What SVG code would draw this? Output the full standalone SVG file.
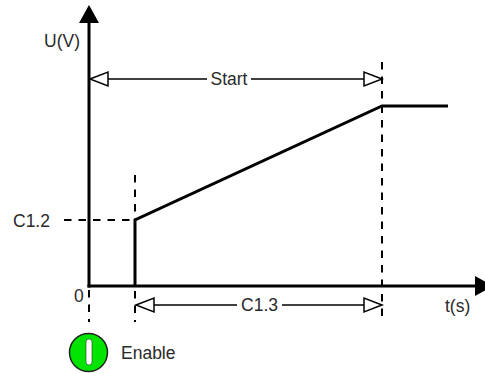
<svg xmlns="http://www.w3.org/2000/svg" width="485" height="374" viewBox="0 0 485 374">
<style>
.lbl{font-family:"Liberation Sans",Arial,sans-serif;font-size:17.5px;fill:#2a2a2a}
.axis{stroke:#000;stroke-width:3;fill:none}
.curve{stroke:#000;stroke-width:3;fill:none;stroke-linejoin:miter}
.dash{stroke:#000;stroke-width:2;stroke-dasharray:7.5 7;fill:none}
.dim{stroke:#000;stroke-width:1.5;fill:none}
.oh{stroke:#000;stroke-width:1.5;fill:#fff}
</style>
<rect width="485" height="374" fill="#fff"/>
<g id="connectors">
  <line class="dash" x1="382" y1="62" x2="382" y2="322"/>
  <line class="dash" x1="135" y1="175" x2="135" y2="322"/>
  <line class="dash" x1="64" y1="220" x2="135" y2="220"/>
  <line class="dash" x1="89" y1="290" x2="89" y2="322"/>
  <g id="y-axis">
    <line class="axis" x1="89" y1="287.5" x2="89" y2="22"/>
    <polygon points="89,5 99,23 79,23" fill="#000"/>
  </g>
  <g id="x-axis">
    <line class="axis" x1="87.5" y1="286" x2="476" y2="286"/>
    <polygon points="493,286 475,276 475,296" fill="#000"/>
  </g>
  <polyline class="curve" points="135,286 135,220 382,106 448,106"/>
  <g id="start-dim">
    <line class="dim" x1="108" y1="79" x2="207" y2="79"/>
    <line class="dim" x1="251" y1="79" x2="364" y2="79"/>
    <polygon class="oh" points="90,79 108,72 108,86"/>
    <polygon class="oh" points="382,79 364,72 364,86"/>
  </g>
  <g id="c13-dim">
    <line class="dim" x1="154" y1="305" x2="237" y2="305"/>
    <line class="dim" x1="282" y1="305" x2="364" y2="305"/>
    <polygon class="oh" points="136,305 154,298 154,312"/>
    <polygon class="oh" points="382,305 364,298 364,312"/>
  </g>
</g>
<g id="labels">
  <text class="lbl" x="44" y="47">U(V)</text>
  <text class="lbl" x="229" y="85" text-anchor="middle">Start</text>
  <text class="lbl" x="13" y="227">C1.2</text>
  <text class="lbl" x="74" y="302">0</text>
  <text class="lbl" x="259.5" y="311" text-anchor="middle">C1.3</text>
  <text class="lbl" x="445" y="312">t(s)</text>
</g>
<g id="enable">
  <circle cx="88.5" cy="352.5" r="19" fill="#00e400" stroke="#222" stroke-width="1.5"/>
  <rect x="86" y="339" width="6" height="26" rx="3" fill="#fff" stroke="#333" stroke-width="0.6"/>
  <text class="lbl" x="121" y="359">Enable</text>
</g>
</svg>
